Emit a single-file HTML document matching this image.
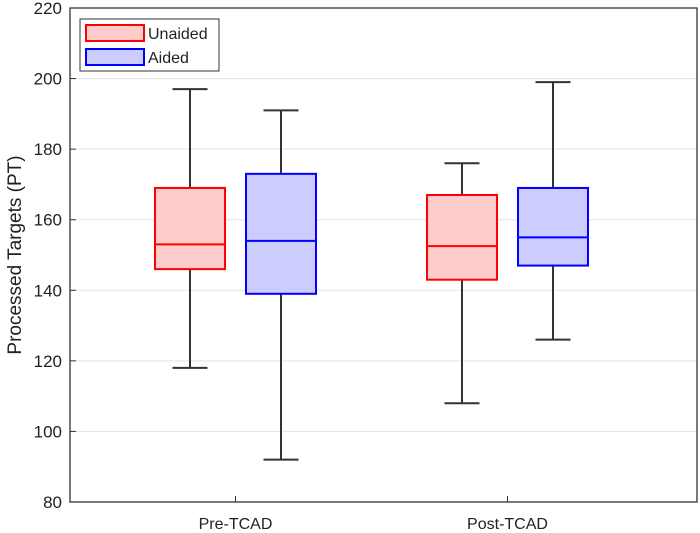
<!DOCTYPE html>
<html><head><style>body{margin:0;background:#fff}svg{display:block;font-family:"Liberation Sans",sans-serif}</style></head>
<body>
<svg id="c" width="700" height="533"></svg>
<script>
const categories=["Pre-TCAD","Post-TCAD"];
const seriesNames=["Unaided","Aided"];
const unaidedStats=[[118,146,153,169,197],[108,143,152.5,167,176]];
const aidedStats=[[92,139,154,173,191],[126,147,155,169,199]];
const yTicks=[80,100,120,140,160,180,200,220];
const L=70,R=697,T=8,B=502,ymin=80,ymax=220;
const y=v=>B-(v-ymin)/(ymax-ymin)*(B-T);
const xc=i=>235.5+i*272;
const svg=document.getElementById('c');const NS='http://www.w3.org/2000/svg';
function el(t,a,p){const e=document.createElementNS(NS,t);for(const k in a)e.setAttribute(k,a[k]);(p||svg).appendChild(e);return e;}
yTicks.forEach(v=>{
 const g=el('line',{x1:L,x2:R,y1:y(v),y2:y(v),stroke:'#e3e3e3'});
 
 el('line',{x1:L,x2:L+6,y1:y(v),y2:y(v),stroke:'#333'});
 const t=el('text',{x:L-8,y:y(v)+6,'text-anchor':'end','font-size':17,fill:'#222'});t.textContent=v;
 
});
categories.forEach((c,i)=>{
 el('line',{x1:xc(i),x2:xc(i),y1:B,y2:B-6,stroke:'#333'});
 const t=el('text',{x:xc(i),y:529,'text-anchor':'middle','font-size':16,fill:'#222'});t.textContent=c;
 
});
function box(s,cx,col,fill,name){
 const g=el('g',{});
 const w=70,cw=35;
 el('line',{x1:cx,x2:cx,y1:y(s[0]),y2:y(s[1]),stroke:'#333','stroke-width':2},g);
 el('line',{x1:cx,x2:cx,y1:y(s[3]),y2:y(s[4]),stroke:'#333','stroke-width':2},g);
 el('line',{x1:cx-cw/2,x2:cx+cw/2,y1:y(s[0]),y2:y(s[0]),stroke:'#333','stroke-width':2},g);
 el('line',{x1:cx-cw/2,x2:cx+cw/2,y1:y(s[4]),y2:y(s[4]),stroke:'#333','stroke-width':2},g);
 el('rect',{x:cx-w/2,y:y(s[3]),width:w,height:y(s[1])-y(s[3]),fill:fill,stroke:col,'stroke-width':2},g);
 el('line',{x1:cx-w/2,x2:cx+w/2,y1:y(s[2]),y2:y(s[2]),stroke:col,'stroke-width':2},g);
}
categories.forEach((c,i)=>{
 box(unaidedStats[i],xc(i)-45.5,'#ff0000','#ffcccc','box-unaided-'+i);
 box(aidedStats[i],xc(i)+45.5,'#0000ff','#ccccff','box-aided-'+i);
});
el('rect',{x:L,y:T,width:R-L,height:B-T,fill:'none',stroke:'#333','stroke-width':1.3});
const yt=el('text',{x:0,y:0,transform:'translate(21,255) rotate(-90)','text-anchor':'middle','font-size':19,fill:'#222'});
yt.textContent='Processed Targets (PT)';
const lg=el('g',{});
el('rect',{x:80,y:19,width:139,height:52,fill:'#fff',stroke:'#333'},lg);
[['#ff0000','#ffcccc'],['#0000ff','#ccccff']].forEach((c,i)=>{
 el('rect',{x:86,y:25+i*24,width:58,height:16,fill:c[1],stroke:c[0],'stroke-width':2},lg);
 const t=el('text',{x:148,y:39+i*24,'font-size':16,fill:'#222'},lg);t.textContent=seriesNames[i];
 
});
</script>
</body></html>
